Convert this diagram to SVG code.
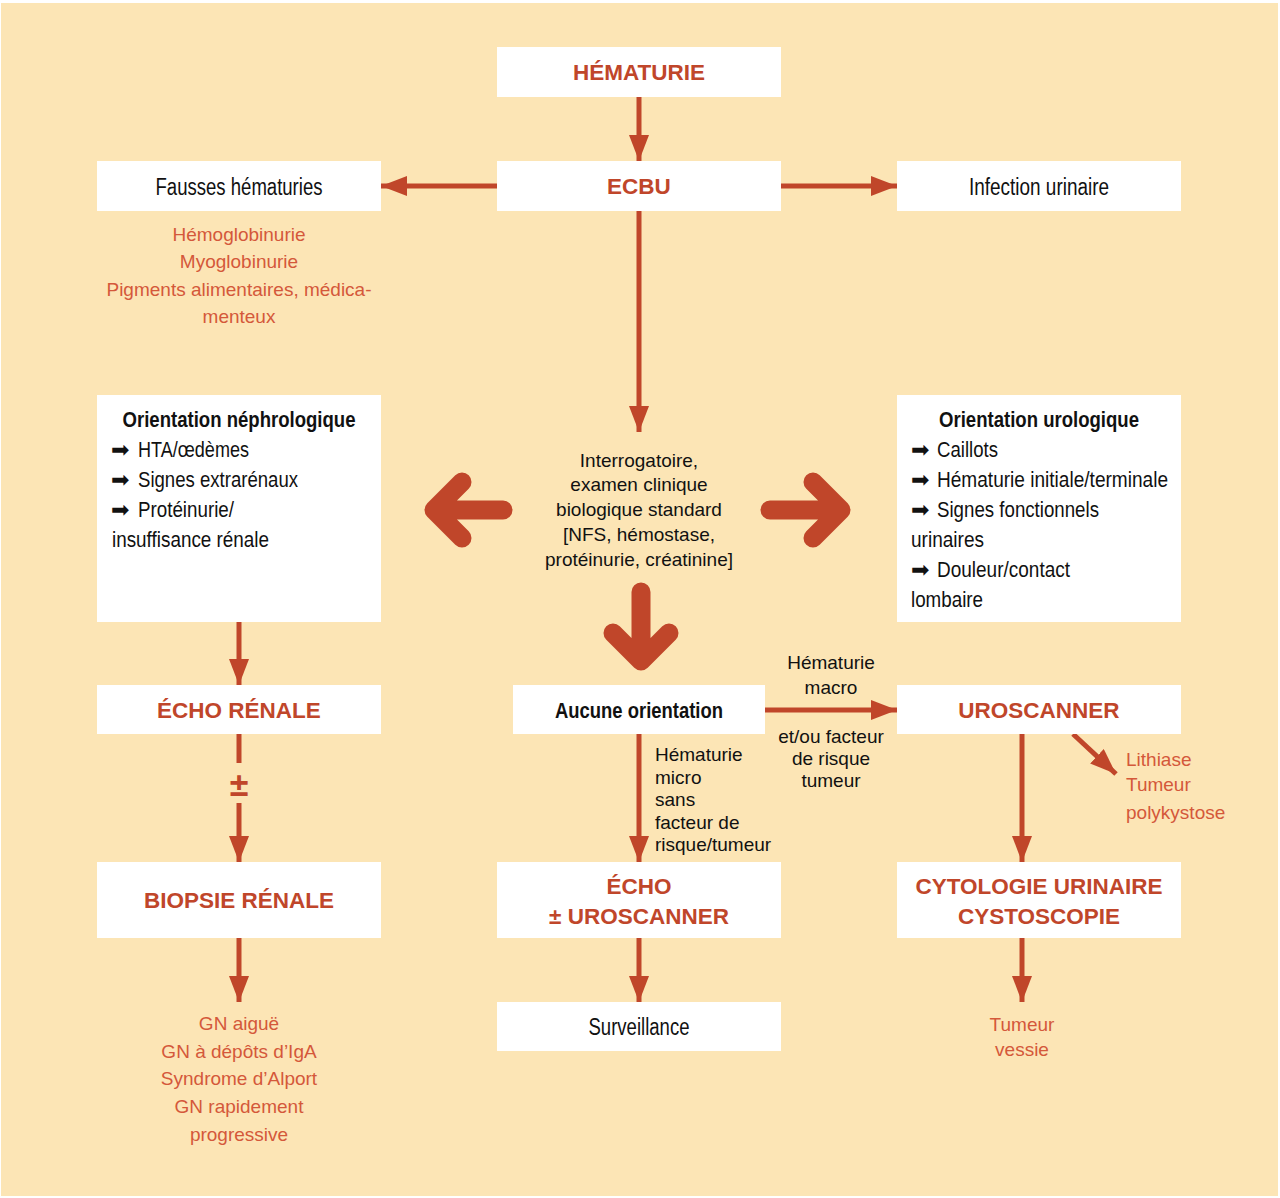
<svg xmlns="http://www.w3.org/2000/svg" width="1280" height="1198" viewBox="0 0 1280 1198">
<defs>
<style>
.box{fill:#ffffff}
.hd{font-family:"Liberation Sans",Arial,sans-serif;font-weight:bold;font-size:22.5px;fill:#C0462A;text-anchor:middle}
.cn{font-family:"Liberation Sans",Arial,sans-serif;font-size:23px;fill:#111;text-anchor:middle}
.cnb{font-family:"Liberation Sans",Arial,sans-serif;font-weight:bold;font-size:22px;fill:#111}
.cnl{font-family:"Liberation Sans",Arial,sans-serif;font-size:22px;fill:#111}
.or{font-family:"Liberation Sans",Arial,sans-serif;font-size:19px;fill:#D4583A;text-anchor:middle}
.orl{font-family:"Liberation Sans",Arial,sans-serif;font-size:19px;fill:#D4583A}
.bk{font-family:"Liberation Sans",Arial,sans-serif;font-size:19px;fill:#111;text-anchor:middle}
.bkl{font-family:"Liberation Sans",Arial,sans-serif;font-size:19px;fill:#111}
.ar{font-family:"DejaVu Sans",sans-serif;font-size:22px;fill:#111}
.ln{stroke:#C0462A;stroke-width:5;fill:none}
.big{stroke:#C0462A;stroke-width:19;fill:none;stroke-linecap:round;stroke-linejoin:round}
</style>
<marker id="ah" viewBox="0 0 26 20" refX="26" refY="10" markerWidth="26" markerHeight="20" markerUnits="userSpaceOnUse" orient="auto">
<path d="M0,0 L26,10 L0,20 Z" fill="#C0462A"/>
</marker>
</defs>
<rect x="0" y="0" width="1280" height="1198" fill="#ffffff"/>
<rect x="1" y="3" width="1277" height="1193" fill="#FCE5B5"/>

<g id="connectors">
<line class="ln" x1="639" y1="97" x2="639" y2="161" marker-end="url(#ah)"/>
<line class="ln" x1="497" y1="186" x2="381" y2="186" marker-end="url(#ah)"/>
<line class="ln" x1="781" y1="186" x2="897" y2="186" marker-end="url(#ah)"/>
<line class="ln" x1="639" y1="211" x2="639" y2="432" marker-end="url(#ah)"/>
<path class="big" d="M503,510 L434,510 M462,482 L434,510 L462,538"/>
<path class="big" d="M770,510 L841,510 M813,482 L841,510 L813,538"/>
<path class="big" d="M641,592 L641,661 M613,633 L641,661 L669,633"/>
<line class="ln" x1="239" y1="622" x2="239" y2="685" marker-end="url(#ah)"/>
<line class="ln" x1="239" y1="734" x2="239" y2="763"/>
<line class="ln" x1="239" y1="803" x2="239" y2="862" marker-end="url(#ah)"/>
<line class="ln" x1="765" y1="710" x2="897" y2="710" marker-end="url(#ah)"/>
<line class="ln" x1="639" y1="734" x2="639" y2="862" marker-end="url(#ah)"/>
<line class="ln" x1="1022" y1="734" x2="1022" y2="862" marker-end="url(#ah)"/>
<line class="ln" x1="1073" y1="734" x2="1116" y2="774" marker-end="url(#ah)"/>
<line class="ln" x1="239" y1="938" x2="239" y2="1002" marker-end="url(#ah)"/>
<line class="ln" x1="639" y1="938" x2="639" y2="1002" marker-end="url(#ah)"/>
<line class="ln" x1="1022" y1="938" x2="1022" y2="1002" marker-end="url(#ah)"/>
<text x="239" y="796" class="hd" style="font-size:34px">±</text>
</g>

<g id="hematurie">
<rect class="box" x="497" y="47" width="284" height="50"/>
<text x="639" y="80" class="hd">HÉMATURIE</text>
</g>
<g id="ecbu">
<rect class="box" x="497" y="161" width="284" height="50"/>
<text x="639" y="194" class="hd">ECBU</text>
</g>
<g id="fausses">
<rect class="box" x="97" y="161" width="284" height="50"/>
<text x="239" y="195" class="cn" textLength="167" lengthAdjust="spacingAndGlyphs">Fausses hématuries</text>
</g>
<g id="fausses-list">
<text x="239" y="241" class="or">Hémoglobinurie</text>
<text x="239" y="268" class="or">Myoglobinurie</text>
<text x="239" y="296" class="or">Pigments alimentaires, médica-</text>
<text x="239" y="323" class="or">menteux</text>
</g>
<g id="infection">
<rect class="box" x="897" y="161" width="284" height="50"/>
<text x="1039" y="195" class="cn" textLength="140" lengthAdjust="spacingAndGlyphs">Infection urinaire</text>
</g>
<g id="interrogatoire">
<text x="639" y="467" class="bk">Interrogatoire,</text>
<text x="639" y="491" class="bk">examen clinique</text>
<text x="639" y="516" class="bk">biologique standard</text>
<text x="639" y="541" class="bk">[NFS, hémostase,</text>
<text x="639" y="566" class="bk">protéinurie, créatinine]</text>
</g>
<g id="nephro">
<rect class="box" x="97" y="395" width="284" height="227"/>
<text x="239" y="427" class="cnb" text-anchor="middle" textLength="233" lengthAdjust="spacingAndGlyphs">Orientation néphrologique</text>
<text x="111" y="457" class="ar">➡</text>
<text x="138" y="457" class="cnl" textLength="111" lengthAdjust="spacingAndGlyphs">HTA/œdèmes</text>
<text x="111" y="487" class="ar">➡</text>
<text x="138" y="487" class="cnl" textLength="160" lengthAdjust="spacingAndGlyphs">Signes extrarénaux</text>
<text x="111" y="517" class="ar">➡</text>
<text x="138" y="517" class="cnl" textLength="96" lengthAdjust="spacingAndGlyphs">Protéinurie/</text>
<text x="112" y="547" class="cnl" textLength="157" lengthAdjust="spacingAndGlyphs">insuffisance rénale</text>
</g>
<g id="uro">
<rect class="box" x="897" y="395" width="284" height="227"/>
<text x="1039" y="427" class="cnb" text-anchor="middle" textLength="200" lengthAdjust="spacingAndGlyphs">Orientation urologique</text>
<text x="911" y="457" class="ar">➡</text>
<text x="937" y="457" class="cnl" textLength="61" lengthAdjust="spacingAndGlyphs">Caillots</text>
<text x="911" y="487" class="ar">➡</text>
<text x="937" y="487" class="cnl" textLength="231" lengthAdjust="spacingAndGlyphs">Hématurie initiale/terminale</text>
<text x="911" y="517" class="ar">➡</text>
<text x="937" y="517" class="cnl" textLength="162" lengthAdjust="spacingAndGlyphs">Signes fonctionnels</text>
<text x="911" y="547" class="cnl" textLength="73" lengthAdjust="spacingAndGlyphs">urinaires</text>
<text x="911" y="577" class="ar">➡</text>
<text x="937" y="577" class="cnl" textLength="133" lengthAdjust="spacingAndGlyphs">Douleur/contact</text>
<text x="911" y="607" class="cnl" textLength="72" lengthAdjust="spacingAndGlyphs">lombaire</text>
</g>
<g id="echo-renale">
<rect class="box" x="97" y="685" width="284" height="49"/>
<text x="239" y="718" class="hd">ÉCHO RÉNALE</text>
</g>
<g id="aucune">
<rect class="box" x="513" y="685" width="252" height="49"/>
<text x="639" y="718" class="cnb" text-anchor="middle" textLength="168" lengthAdjust="spacingAndGlyphs">Aucune orientation</text>
</g>
<g id="uroscanner">
<rect class="box" x="897" y="685" width="284" height="49"/>
<text x="1039" y="718" class="hd">UROSCANNER</text>
</g>
<g id="label-macro">
<text x="831" y="669" class="bk">Hématurie</text>
<text x="831" y="694" class="bk">macro</text>
<text x="831" y="743" class="bk">et/ou facteur</text>
<text x="831" y="765" class="bk">de risque</text>
<text x="831" y="787" class="bk">tumeur</text>
</g>
<g id="label-micro">
<text x="655" y="761" class="bkl">Hématurie</text>
<text x="655" y="784" class="bkl">micro</text>
<text x="655" y="806" class="bkl">sans</text>
<text x="655" y="829" class="bkl">facteur de</text>
<text x="655" y="851" class="bkl">risque/tumeur</text>
</g>
<g id="lithiase">
<text x="1126" y="766" class="orl">Lithiase</text>
<text x="1126" y="791" class="orl">Tumeur</text>
<text x="1126" y="819" class="orl">polykystose</text>
</g>
<g id="biopsie">
<rect class="box" x="97" y="862" width="284" height="76"/>
<text x="239" y="908" class="hd">BIOPSIE RÉNALE</text>
</g>
<g id="echo-uroscanner">
<rect class="box" x="497" y="862" width="284" height="76"/>
<text x="639" y="894" class="hd">ÉCHO</text>
<text x="639" y="924" class="hd">± UROSCANNER</text>
</g>
<g id="cytologie">
<rect class="box" x="897" y="862" width="284" height="76"/>
<text x="1039" y="894" class="hd">CYTOLOGIE URINAIRE</text>
<text x="1039" y="924" class="hd">CYSTOSCOPIE</text>
</g>
<g id="gn-list">
<text x="239" y="1030" class="or">GN aiguë</text>
<text x="239" y="1058" class="or">GN à dépôts d’IgA</text>
<text x="239" y="1085" class="or">Syndrome d’Alport</text>
<text x="239" y="1113" class="or">GN rapidement</text>
<text x="239" y="1141" class="or">progressive</text>
</g>
<g id="surveillance">
<rect class="box" x="497" y="1002" width="284" height="49"/>
<text x="639" y="1035" class="cn" textLength="101" lengthAdjust="spacingAndGlyphs">Surveillance</text>
</g>
<g id="tumeur-vessie">
<text x="1022" y="1031" class="or">Tumeur</text>
<text x="1022" y="1056" class="or">vessie</text>
</g>
</svg>
